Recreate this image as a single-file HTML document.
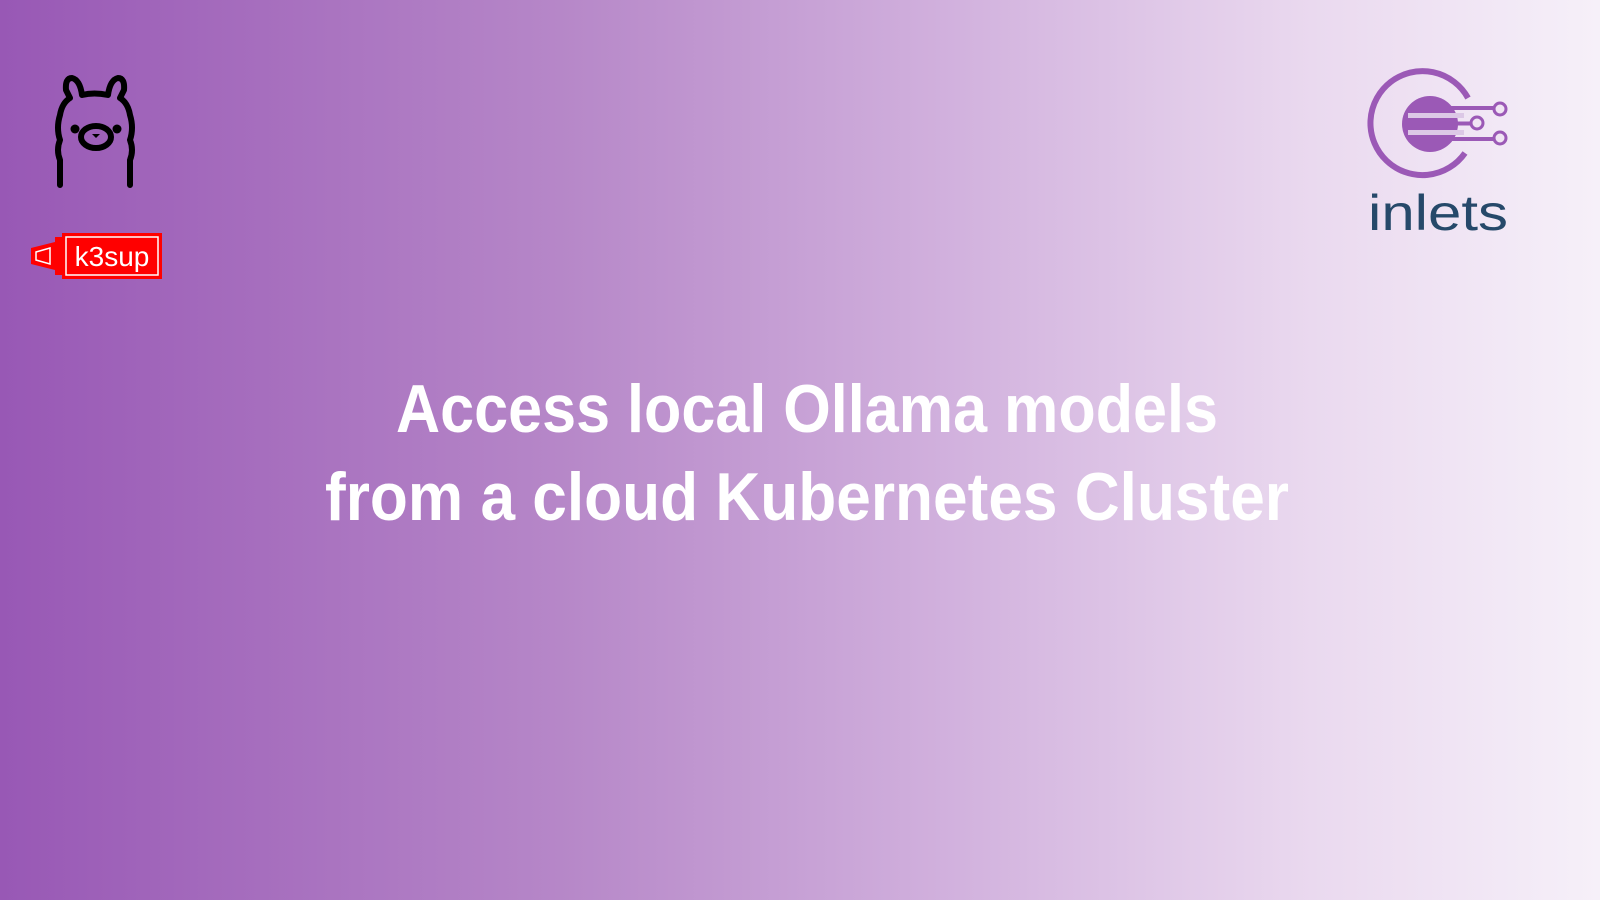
<!DOCTYPE html>
<html><head><meta charset="utf-8"><style>
html,body{margin:0;padding:0}
body{width:1600px;height:900px;overflow:hidden;background:linear-gradient(90deg,#9858b5 0%,#b687c8 35%,#d2b2de 60%,#ead9ef 82%,#f6f0f9 100%);position:relative;font-family:"Liberation Sans",sans-serif}
svg{position:absolute;left:0;top:0}
</style></head><body>
<svg width="1600" height="900" viewBox="0 0 1600 900">
<g fill="none" stroke="#000" stroke-width="6" stroke-linecap="round" stroke-linejoin="round">
<path d="M60 185 V160 Q56 150 60 140 Q56 128 60 115 Q62 103 70 98 L66 90 Q65 78 72 78 Q80 80 82 95 Q94 92 108 95 Q110 80 118 78 Q125 78 124 90 L120 98 Q128 103 130 115 Q134 128 130 140 Q134 150 130 160 V185"/>
<ellipse cx="96" cy="137" rx="15" ry="11"/>
</g>
<circle cx="75" cy="129" r="4.5" fill="#000"/><circle cx="117" cy="129" r="4.5" fill="#000"/>
<path d="M92 134 h8 l-4 4z" fill="#000"/>
<g>
<rect x="55" y="237" width="10" height="38" fill="#f00"/>
<path d="M31 248 L55 242 V270 L31 264Z" fill="#f00"/>
<path d="M36 252 L50 248 V264 L36 260Z" fill="none" stroke="#fff" stroke-width="1.5"/>
<rect x="62" y="233" width="100" height="46" fill="#f00"/>
<rect x="66" y="237" width="92" height="38" fill="none" stroke="#fff" stroke-width="1.5"/>
<text x="112" y="266" fill="#fff" font-size="28" text-anchor="middle" font-family="Liberation Sans,sans-serif">k3sup</text>
</g>
<g>
<path d="M1465 153 A52 52 0 1 1 1468 98" fill="none" stroke="#9b59b6" stroke-width="6"/>
<circle cx="1430" cy="124" r="28" fill="#9b59b6"/>
<rect x="1408" y="113" width="56" height="5" fill="#dcc8e6"/>
<rect x="1408" y="130" width="56" height="5" fill="#dcc8e6"/>
<path d="M1440 108 H1494 M1410 123.5 H1471 M1440 139 H1494" stroke="#9b59b6" stroke-width="4" fill="none"/>
<circle cx="1500" cy="109" r="6" fill="#f0e5f3" stroke="#9b59b6" stroke-width="3"/>
<circle cx="1477" cy="123" r="6" fill="#f0e5f3" stroke="#9b59b6" stroke-width="3"/>
<circle cx="1500" cy="138" r="6" fill="#f0e5f3" stroke="#9b59b6" stroke-width="3"/>
<text x="1438" y="230" fill="#26496a" font-size="50" text-anchor="middle" font-family="Liberation Sans,sans-serif" textLength="140" lengthAdjust="spacingAndGlyphs">inlets</text>
</g>
<g fill="#fff" font-weight="bold" font-size="68" font-family="Liberation Sans,sans-serif" text-anchor="middle">
<text x="807" y="432" textLength="822" lengthAdjust="spacingAndGlyphs">Access local Ollama models</text>
<text x="807" y="520" textLength="964" lengthAdjust="spacingAndGlyphs">from a cloud Kubernetes Cluster</text>
</g>
</svg>
</body></html>
